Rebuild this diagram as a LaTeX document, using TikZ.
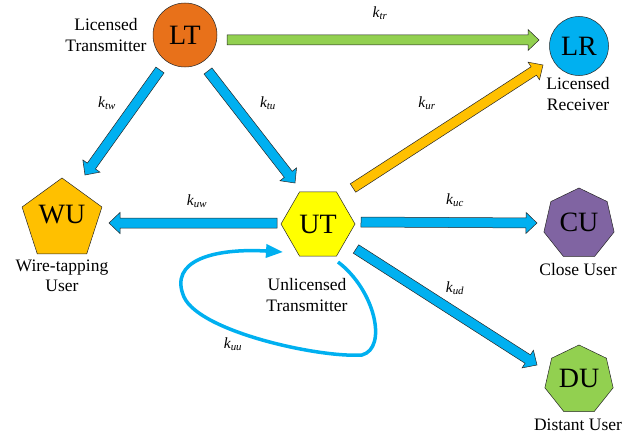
\documentclass[tikz,border=0pt]{standalone}
\usepackage{fontspec}
\setmainfont{Liberation Serif}
\usetikzlibrary{calc,shapes.geometric,arrows.meta}

\definecolor{ltorange}{HTML}{E8711A}
\definecolor{skyblue}{HTML}{00B0F0}
\definecolor{gold}{HTML}{FFC000}
\definecolor{leafgreen}{HTML}{92D050}
\definecolor{violet}{HTML}{8064A2}
\definecolor{lemon}{HTML}{FFFF00}

% block arrow from #1 to #2, filled with #3
\newcommand{\blockarrow}[3]{%
  \coordinate (ba-s) at #1;
  \coordinate (ba-e) at #2;
  \coordinate (ba-b) at ($(ba-e)!11pt!(ba-s)$);
  \filldraw[fill=#3, draw=black!85, line width=0.5pt, line join=miter]
    ($(ba-s)!5pt!90:(ba-e)$) -- ($(ba-b)!5pt!-90:(ba-s)$) -- ($(ba-b)!10.5pt!-90:(ba-s)$)
    -- (ba-e) -- ($(ba-b)!10.5pt!90:(ba-s)$) -- ($(ba-b)!5pt!90:(ba-s)$)
    -- ($(ba-s)!5pt!-90:(ba-e)$) -- cycle;
}

\tikzset{
  unit/.style={draw=black!85, line width=0.5pt, inner sep=0pt, font=\fontsize{28}{28}\selectfont},
  caption/.style={align=center, font=\fontsize{17.5}{20.5}\selectfont},
  rate/.style={font=\fontsize{15.5}{15.5}\selectfont\itshape}
}

\begin{document}
\begin{tikzpicture}[x=1pt, y=-1pt]
  \useasboundingbox (0,0) rectangle (634,436);

  % users
  \node[unit, circle, fill=ltorange, minimum size=64pt] (LT) at (185,35) {LT};
  \node[unit, circle, fill=skyblue, minimum size=59pt] (LR) at (579,46) {LR};
  \node[unit, regular polygon, regular polygon sides=5, fill=gold, minimum size=84pt] (WU) at (62,220) {};
  \node[unit, regular polygon, regular polygon sides=6, fill=lemon, minimum size=74pt] (UT) at (318,224) {UT};
  \node[unit, regular polygon, regular polygon sides=7, fill=violet, minimum size=72pt] (CU) at (579,224) {};
  \node[unit, regular polygon, regular polygon sides=7, fill=leafgreen, minimum size=70pt] (DU) at (579,380) {};
  \node[font=\fontsize{28}{28}\selectfont] (WU-txt) at (62,215) {WU};
  \node[font=\fontsize{28}{28}\selectfont] (CU-txt) at (579,222) {CU};
  \node[font=\fontsize{28}{28}\selectfont] (DU-txt) at (579,378) {DU};

  % captions
  \node[caption] (LT-cap) at (106,35) {Licensed\\Transmitter};
  \node[caption] (LR-cap) at (578,94) {Licensed\\Receiver};
  \node[caption] (WU-cap) at (62,276) {Wire-tapping\\User};
  \node[caption] (UT-cap) at (307,295) {Unlicensed\\Transmitter};
  \node[caption] (CU-cap) at (578,270) {Close User};
  \node[caption] (DU-cap) at (578,425) {Distant User};

  % links
  \blockarrow{([shift={(42pt,-5pt)}]LT.center)}{([shift={(-40pt,6pt)}]LR.center)}{leafgreen}
  \blockarrow{([shift={(-25pt,-35pt)}]LT.center)}{([shift={(23pt,45pt)}]WU.center)}{skyblue}
  \blockarrow{([shift={(23pt,-36pt)}]LT.center)}{([shift={(-23pt,41pt)}]UT.center)}{skyblue}
  \blockarrow{([shift={(35pt,36pt)}]UT.center)}{([shift={(-36pt,-19pt)}]LR.center)}{gold}
  \blockarrow{([shift={(-41pt,1pt)}]UT.center)}{([shift={(47pt,-3pt)}]WU.center)}{skyblue}
  \blockarrow{([shift={(43pt,2pt)}]UT.center)}{([shift={(-42pt,1pt)}]CU.center)}{skyblue}
  \blockarrow{([shift={(38pt,-25pt)}]UT.center)}{([shift={(-42pt,15pt)}]DU.center)}{skyblue}

  % self link
  \coordinate (loop-s) at ([shift={(20pt,-38pt)}]UT.center);
  \coordinate (loop-e) at ([shift={(-35pt,-28pt)}]UT.center);
  \draw[skyblue, line width=3.5pt, -{Triangle[length=17pt,width=13pt]}]
    (loop-s) .. controls (375,290) and (388,348) .. (362,355)
    .. controls (320,358) and (200,332) .. (184,297)
    .. controls (168,260) and (215,248) .. (loop-e);

  % rates
  \node[rate] (k-tr) at (380,13) {k\textsubscript{tr}};
  \node[rate] (k-tw) at (107,103) {k\textsubscript{tw}};
  \node[rate] (k-tu) at (268,103) {k\textsubscript{tu}};
  \node[rate] (k-ur) at (427,103) {k\textsubscript{ur}};
  \node[rate] (k-uw) at (197,201) {k\textsubscript{uw}};
  \node[rate] (k-uc) at (455,200) {k\textsubscript{uc}};
  \node[rate] (k-ud) at (455,288) {k\textsubscript{ud}};
  \node[rate] (k-uu) at (233,344) {k\textsubscript{uu}};
\end{tikzpicture}
\end{document}
